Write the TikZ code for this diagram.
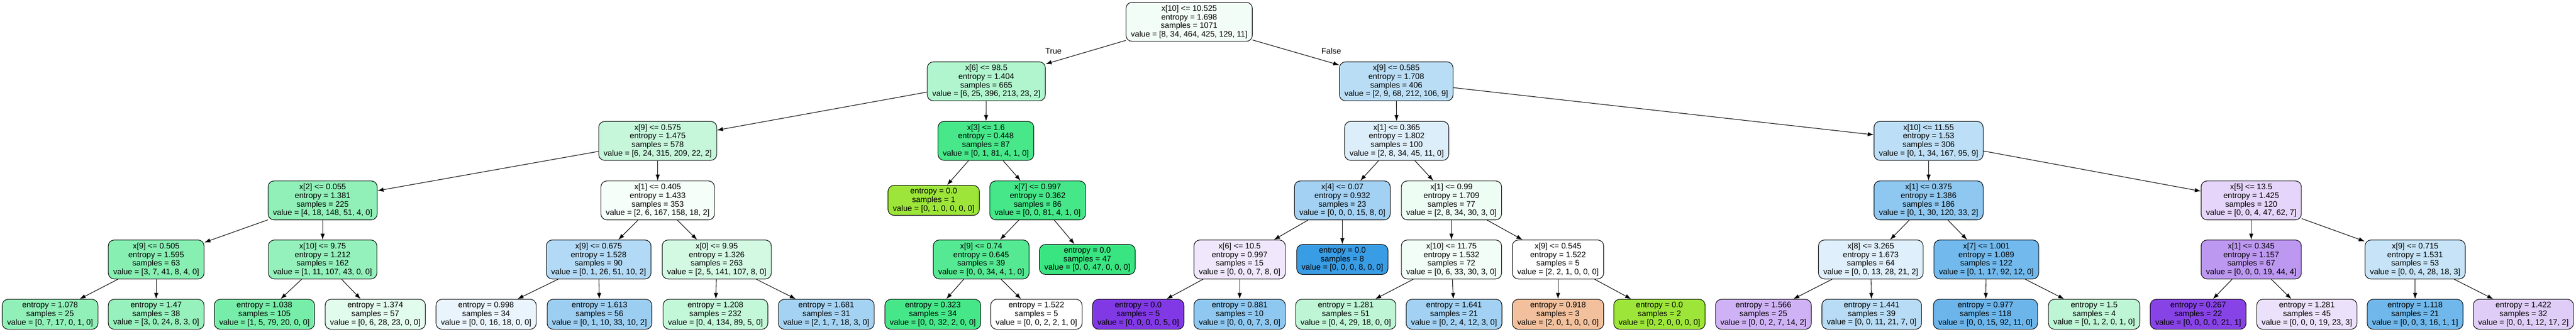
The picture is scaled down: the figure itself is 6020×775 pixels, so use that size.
\documentclass[tikz,border=0pt]{standalone}
\usepackage{fontspec}
\setmainfont{Liberation Sans}
\usetikzlibrary{arrows.meta}
\definecolor{cls0}{HTML}{E58139}
\definecolor{cls1}{HTML}{9DE539}
\definecolor{cls2}{HTML}{39E581}
\definecolor{cls3}{HTML}{399DE5}
\definecolor{cls4}{HTML}{8139E5}
\begin{document}
\begin{tikzpicture}[x=1pt, y=-1pt,
  splitbox/.style={draw, line width=1.3pt, rounded corners=14pt, align=center, inner xsep=11.5pt, inner ysep=2pt, minimum height=91pt, font=\fontsize{18.67}{20}\selectfont},
  leafbox/.style={splitbox, minimum height=70pt},
  link/.style={line width=1.3pt, -{Latex[length=14pt,width=10pt]}}]
\useasboundingbox (0,0) rectangle (6020,775);
% level 0 and 1
\node[splitbox, fill=cls2!6!white] (n) at (2779,51) {x[10] <= 10.525\\entropy = 1.698\\samples = 1071\\value = [8, 34, 464, 425, 129, 11]};
\node[splitbox, fill=cls2!40!white] (nl) at (2305,190) {x[6] <= 98.5\\entropy = 1.404\\samples = 665\\value = [6, 25, 396, 213, 23, 2]};
\node[splitbox, fill=cls3!35!white] (nr) at (3263,190) {x[9] <= 0.585\\entropy = 1.708\\samples = 406\\value = [2, 9, 68, 212, 106, 9]};
\node (lbltrue) at (2462,119) {\fontsize{18.67}{20}\selectfont True};
\node (lblfalse) at (3111,119) {\fontsize{18.67}{20}\selectfont False};
% level 2
\node[splitbox, fill=cls2!29!white] (nll) at (1537,329) {x[9] <= 0.575\\entropy = 1.475\\samples = 578\\value = [6, 24, 315, 209, 22, 2]};
\node[splitbox, fill=cls2!93!white] (nlr) at (2304,329) {x[3] <= 1.6\\entropy = 0.448\\samples = 87\\value = [0, 1, 81, 4, 1, 0]};
\node[splitbox, fill=cls3!17!white] (nrl) at (3264,329) {x[1] <= 0.365\\entropy = 1.802\\samples = 100\\value = [2, 8, 34, 45, 11, 0]};
\node[splitbox, fill=cls3!34!white] (nrr) at (4507,329) {x[10] <= 11.55\\entropy = 1.53\\samples = 306\\value = [0, 1, 34, 167, 95, 9]};
% level 3
\node[splitbox, fill=cls2!56!white] (nlll) at (754,468) {x[2] <= 0.055\\entropy = 1.381\\samples = 225\\value = [4, 18, 148, 51, 4, 0]};
\node[splitbox, fill=cls2!5!white] (nllr) at (1537,468) {x[1] <= 0.405\\entropy = 1.433\\samples = 353\\value = [2, 6, 167, 158, 18, 2]};
\node[leafbox, fill=cls1] (nlrl) at (2182,468) {entropy = 0.0\\samples = 1\\value = [0, 1, 0, 0, 0, 0]};
\node[splitbox, fill=cls2!94!white] (nlrr) at (2425,468) {x[7] <= 0.997\\entropy = 0.362\\samples = 86\\value = [0, 0, 81, 4, 1, 0]};
\node[splitbox, fill=cls3!47!white] (nrll) at (3137,468) {x[4] <= 0.07\\entropy = 0.932\\samples = 23\\value = [0, 0, 0, 15, 8, 0]};
\node[splitbox, fill=cls2!9!white] (nrlr) at (3392,468) {x[1] <= 0.99\\entropy = 1.709\\samples = 77\\value = [2, 8, 34, 30, 3, 0]};
\node[splitbox, fill=cls3!57!white] (nrrl) at (4507,468) {x[1] <= 0.375\\entropy = 1.386\\samples = 186\\value = [0, 1, 30, 120, 33, 2]};
\node[splitbox, fill=cls4!21!white] (nrrr) at (5261,468) {x[5] <= 13.5\\entropy = 1.425\\samples = 120\\value = [0, 0, 4, 47, 62, 7]};
% level 4
\node[splitbox, fill=cls2!60!white] (nllll) at (365,606) {x[9] <= 0.505\\entropy = 1.595\\samples = 63\\value = [3, 7, 41, 8, 4, 0]};
\node[splitbox, fill=cls2!54!white] (nlllr) at (754,606) {x[10] <= 9.75\\entropy = 1.212\\samples = 162\\value = [1, 11, 107, 43, 0, 0]};
\node[splitbox, fill=cls3!39!white] (nllrl) at (1399,606) {x[9] <= 0.675\\entropy = 1.528\\samples = 90\\value = [0, 1, 26, 51, 10, 2]};
\node[splitbox, fill=cls2!22!white] (nllrr) at (1675,606) {x[0] <= 9.95\\entropy = 1.326\\samples = 263\\value = [2, 5, 141, 107, 8, 0]};
\node[splitbox, fill=cls2!86!white] (nlrrl) at (2293,606) {x[9] <= 0.74\\entropy = 0.645\\samples = 39\\value = [0, 0, 34, 4, 1, 0]};
\node[leafbox, fill=cls2] (nlrrr) at (2541,606) {entropy = 0.0\\samples = 47\\value = [0, 0, 47, 0, 0, 0]};
\node[splitbox, fill=cls4!12!white] (nrlll) at (2897,606) {x[6] <= 10.5\\entropy = 0.997\\samples = 15\\value = [0, 0, 0, 7, 8, 0]};
\node[leafbox, fill=cls3] (nrllr) at (3137,606) {entropy = 0.0\\samples = 8\\value = [0, 0, 0, 8, 0, 0]};
\node[splitbox, fill=cls2!7!white] (nrlrl) at (3392,606) {x[10] <= 11.75\\entropy = 1.532\\samples = 72\\value = [0, 6, 33, 30, 3, 0]};
\node[splitbox, fill=white] (nrlrr) at (3641,606) {x[9] <= 0.545\\entropy = 1.522\\samples = 5\\value = [2, 2, 1, 0, 0, 0]};
\node[splitbox, fill=cls3!16!white] (nrrll) at (4372,606) {x[8] <= 3.265\\entropy = 1.673\\samples = 64\\value = [0, 0, 13, 28, 21, 2]};
\node[splitbox, fill=cls3!71!white] (nrrlr) at (4642,606) {x[7] <= 1.001\\entropy = 1.089\\samples = 122\\value = [0, 1, 17, 92, 12, 0]};
\node[splitbox, fill=cls4!52!white] (nrrrl) at (5261,606) {x[1] <= 0.345\\entropy = 1.157\\samples = 67\\value = [0, 0, 0, 19, 44, 4]};
\node[splitbox, fill=cls3!29!white] (nrrrr) at (5644,606) {x[9] <= 0.715\\entropy = 1.531\\samples = 53\\value = [0, 0, 4, 28, 18, 3]};
% level 5
\node[leafbox, fill=cls2!56!white] (nlllll) at (117,734) {entropy = 1.078\\samples = 25\\value = [0, 7, 17, 0, 1, 0]};
\node[leafbox, fill=cls2!53!white] (nllllr) at (365,734) {entropy = 1.47\\samples = 38\\value = [3, 0, 24, 8, 3, 0]};
\node[leafbox, fill=cls2!69!white] (nlllrl) at (618,734) {entropy = 1.038\\samples = 105\\value = [1, 5, 79, 20, 0, 0]};
\node[leafbox, fill=cls2!15!white] (nlllrr) at (877,734) {entropy = 1.374\\samples = 57\\value = [0, 6, 28, 23, 0, 0]};
\node[leafbox, fill=cls3!11!white] (nllrll) at (1136,734) {entropy = 0.998\\samples = 34\\value = [0, 0, 16, 18, 0, 0]};
\node[leafbox, fill=cls3!50!white] (nllrlr) at (1401,734) {entropy = 1.613\\samples = 56\\value = [0, 1, 10, 33, 10, 2]};
\node[leafbox, fill=cls2!31!white] (nllrrl) at (1672,734) {entropy = 1.208\\samples = 232\\value = [0, 4, 134, 89, 5, 0]};
\node[leafbox, fill=cls3!46!white] (nllrrr) at (1931,734) {entropy = 1.681\\samples = 31\\value = [2, 1, 7, 18, 3, 0]};
\node[leafbox, fill=cls2!94!white] (nlrrll) at (2180,734) {entropy = 0.323\\samples = 34\\value = [0, 0, 32, 2, 0, 0]};
\node[leafbox, fill=white] (nlrrlr) at (2422,734) {entropy = 1.522\\samples = 5\\value = [0, 0, 2, 2, 1, 0]};
\node[leafbox, fill=cls4] (nrllll) at (2660,734) {entropy = 0.0\\samples = 5\\value = [0, 0, 0, 0, 5, 0]};
\node[leafbox, fill=cls3!57!white] (nrlllr) at (2897,734) {entropy = 0.881\\samples = 10\\value = [0, 0, 0, 7, 3, 0]};
\node[leafbox, fill=cls2!33!white] (nrlrll) at (3145,734) {entropy = 1.281\\samples = 51\\value = [0, 4, 29, 18, 0, 0]};
\node[leafbox, fill=cls3!47!white] (nrlrlr) at (3398,734) {entropy = 1.641\\samples = 21\\value = [0, 2, 4, 12, 3, 0]};
\node[leafbox, fill=cls0!50!white] (nrlrrl) at (3641,734) {entropy = 0.918\\samples = 3\\value = [2, 0, 1, 0, 0, 0]};
\node[leafbox, fill=cls1] (nrlrrr) at (3878,734) {entropy = 0.0\\samples = 2\\value = [0, 2, 0, 0, 0, 0]};
\node[leafbox, fill=cls4!39!white] (nrrlll) at (4121,734) {entropy = 1.566\\samples = 25\\value = [0, 0, 2, 7, 14, 2]};
\node[leafbox, fill=cls3!36!white] (nrrllr) at (4374,734) {entropy = 1.441\\samples = 39\\value = [0, 0, 11, 21, 7, 0]};
\node[leafbox, fill=cls3!75!white] (nrrlrl) at (4640,734) {entropy = 0.977\\samples = 118\\value = [0, 0, 15, 92, 11, 0]};
\node[leafbox, fill=cls2!33!white] (nrrlrr) at (4894,734) {entropy = 1.5\\samples = 4\\value = [0, 1, 2, 0, 1, 0]};
\node[leafbox, fill=cls4!95!white] (nrrrll) at (5137,734) {entropy = 0.267\\samples = 22\\value = [0, 0, 0, 0, 21, 1]};
\node[leafbox, fill=cls4!15!white] (nrrrlr) at (5391,734) {entropy = 1.281\\samples = 45\\value = [0, 0, 0, 19, 23, 3]};
\node[leafbox, fill=cls3!72!white] (nrrrrl) at (5644,734) {entropy = 1.118\\samples = 21\\value = [0, 0, 3, 16, 1, 1]};
\node[leafbox, fill=cls4!25!white] (nrrrrr) at (5897,734) {entropy = 1.422\\samples = 32\\value = [0, 0, 1, 12, 17, 2]};
% connectors
\foreach \a/\b in {n/nl, n/nr, nl/nll, nl/nlr, nr/nrl, nr/nrr,
  nll/nlll, nll/nllr, nlr/nlrl, nlr/nlrr, nrl/nrll, nrl/nrlr, nrr/nrrl, nrr/nrrr,
  nlll/nllll, nlll/nlllr, nllr/nllrl, nllr/nllrr, nlrr/nlrrl, nlrr/nlrrr,
  nrll/nrlll, nrll/nrllr, nrlr/nrlrl, nrlr/nrlrr, nrrl/nrrll, nrrl/nrrlr, nrrr/nrrrl, nrrr/nrrrr,
  nllll/nlllll, nllll/nllllr, nlllr/nlllrl, nlllr/nlllrr, nllrl/nllrll, nllrl/nllrlr,
  nllrr/nllrrl, nllrr/nllrrr, nlrrl/nlrrll, nlrrl/nlrrlr, nrlll/nrllll, nrlll/nrlllr,
  nrlrl/nrlrll, nrlrl/nrlrlr, nrlrr/nrlrrl, nrlrr/nrlrrr, nrrll/nrrlll, nrrll/nrrllr,
  nrrlr/nrrlrl, nrrlr/nrrlrr, nrrrl/nrrrll, nrrrl/nrrrlr, nrrrr/nrrrrl, nrrrr/nrrrrr}
  \draw[link] (\a) -- (\b);
\end{tikzpicture}
\end{document}
